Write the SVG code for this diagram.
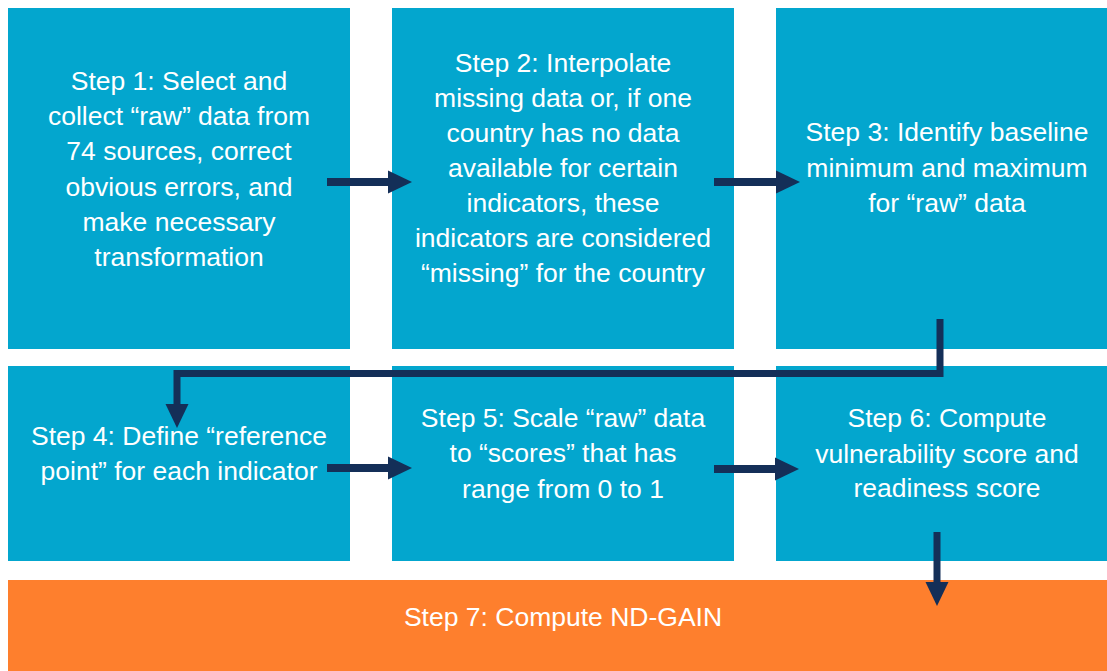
<svg xmlns="http://www.w3.org/2000/svg" width="1107" height="671" viewBox="0 0 1107 671">
<style>
.box{fill:#03A6CE}
.final{fill:#FE7F2D}
.t{font-family:"Liberation Sans",Arial,sans-serif;font-size:26.5px;fill:#FFFFFF;text-anchor:middle}
.c{stroke:#142F58;fill:none}
</style>
<defs>
<marker id="ah" markerUnits="userSpaceOnUse" markerWidth="24" markerHeight="24" refX="0" refY="11.5" orient="auto" viewBox="0 0 24 23">
<path d="M0,0 L24,11.5 L0,23 Z" fill="#142F58"/>
</marker>
</defs>
<rect width="1107" height="671" fill="#FFFFFF"/>
<g id="step1"><rect class="box" x="8" y="8" width="342" height="341"/>
<text class="t" x="179" y="90">Step 1: Select and</text>
<text class="t" x="179" y="125">collect “raw” data from</text>
<text class="t" x="179" y="160">74 sources, correct</text>
<text class="t" x="179" y="195.5">obvious errors, and</text>
<text class="t" x="179" y="231">make necessary</text>
<text class="t" x="179" y="266">transformation</text></g>
<g id="step2"><rect class="box" x="392" y="8" width="342" height="341"/>
<text class="t" x="563" y="72">Step 2: Interpolate</text>
<text class="t" x="563" y="107">missing data or, if one</text>
<text class="t" x="563" y="142">country has no data</text>
<text class="t" x="563" y="177">available for certain</text>
<text class="t" x="563" y="212">indicators, these</text>
<text class="t" x="563" y="247">indicators are considered</text>
<text class="t" x="563" y="282">“missing” for the country</text></g>
<g id="step3"><rect class="box" x="776" y="8" width="342" height="341"/>
<text class="t" x="947" y="141">Step 3: Identify baseline</text>
<text class="t" x="947" y="177">minimum and maximum</text>
<text class="t" x="947" y="212">for “raw” data</text></g>
<g id="step4"><rect class="box" x="8" y="366" width="342" height="195"/>
<text class="t" x="179" y="445">Step 4: Define “reference</text>
<text class="t" x="179" y="480">point” for each indicator</text></g>
<g id="step5"><rect class="box" x="392" y="366" width="342" height="195"/>
<text class="t" x="563" y="427">Step 5: Scale “raw” data</text>
<text class="t" x="563" y="462">to “scores” that has</text>
<text class="t" x="563" y="498">range from 0 to 1</text></g>
<g id="step6"><rect class="box" x="776" y="366" width="342" height="195"/>
<text class="t" x="947" y="427">Step 6: Compute</text>
<text class="t" x="947" y="463">vulnerability score and</text>
<text class="t" x="947" y="497">readiness score</text></g>
<g id="step7"><rect class="final" x="8" y="580" width="1110" height="91"/>
<text class="t" x="563" y="626">Step 7: Compute ND-GAIN</text></g>
<g id="connectors">
<line class="c" stroke-width="8" x1="327" y1="182" x2="388" y2="182" marker-end="url(#ah)"/>
<line class="c" stroke-width="8" x1="714" y1="182" x2="776" y2="182" marker-end="url(#ah)"/>
<line class="c" stroke-width="8" x1="327" y1="468" x2="388" y2="468" marker-end="url(#ah)"/>
<line class="c" stroke-width="8" x1="714" y1="469" x2="775" y2="469" marker-end="url(#ah)"/>
<line class="c" stroke-width="7" x1="937" y1="532" x2="937" y2="582" marker-end="url(#ah)"/>
<polyline class="c" stroke-width="7" points="940,319 940,373.5 177,373.5 177,404" marker-end="url(#ah)"/>
</g>
</svg>
